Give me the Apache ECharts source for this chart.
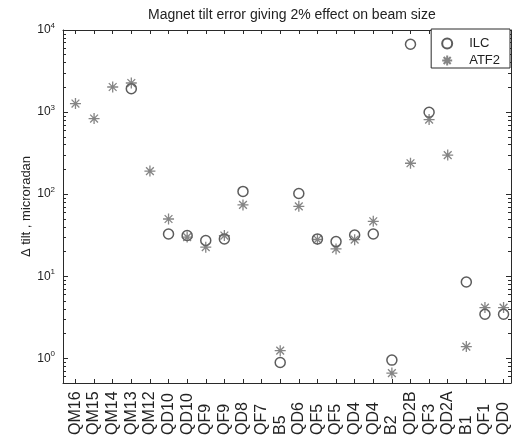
<!DOCTYPE html>
<html>
<head>
<meta charset="utf-8">
<script src="https://cdn.jsdelivr.net/npm/echarts@6/dist/echarts.min.js"></script>
<style>
  html, body { margin: 0; padding: 0; background: #fff; }
  #chart { width: 512px; height: 438px; }
</style>
</head>
<body>
<div id="chart"></div>
<script>
// Magnet names along the beam line (one column per magnet)
const categories = ['QM16','QM15','QM14','QM13','QM12','QD10','QD10','QF9','QF9','QD8','QF7','B5',
                    'QD6','QF5','QF5','QD4','QD4','B2','QD2B','QF3','QD2A','B1','QF1','QD0'];

// Tilt tolerance (microradian) giving a 2% beam size effect
const ilcValues  = [null, null, null, 1930, null, 32.7, 31.3, 27.2, 28.5, 108, null, 0.89,
                    102, 28.5, 26.4, 31.8, 32.7, 0.95, 6700, 995, null, 8.5, 3.44, 3.44];
const atf2Values = [1270, 834, 2020, 2260, 191, 49.8, 30, 22.6, 31.3, 74, null, 1.24,
                    71, 28, 21.5, 27.9, 46.7, 0.66, 238, 811, 299, 1.39, 4.15, 4.15];

// Decade tick labels on the log axis
const decadeExponents = [0, 1, 2, 3, 4];

const positions = categories.map((_, i) => i + 1);
const toPairs = vals => vals.map((v, i) => (v == null ? null : [i + 1, v])).filter(p => p);

// minor log ticks (2..9 per decade) as log10 values, drawn on plain helper axes
const Y_MIN = 0.5, Y_MAX = 10000;
const minorLogs = [];
for (let e = -1; e <= 3; e++) {
  for (let k = 2; k <= 9; k++) {
    const lv = Math.log10(k) + e;
    if (lv > Math.log10(Y_MIN) && lv < Math.log10(Y_MAX)) minorLogs.push(lv);
  }
}

const FONT = 'Liberation Sans, Arial, sans-serif';
const AX = '#2a2a2a';
const starPath = 'path://M0,-10L0,10M-10,0L10,0M-7.07,-7.07L7.07,7.07M-7.07,7.07L7.07,-7.07';

const xCommon = {
  type: 'value', min: 0.33, max: 24.4,
  splitLine: { show: false },
  axisLine: { show: true, onZero: false, lineStyle: { color: AX, width: 1 } },
  axisTick: { show: true, inside: true, length: 4, customValues: positions, lineStyle: { color: AX } }
};

const yMajor = {
  type: 'log', logBase: 10, min: Y_MIN, max: Y_MAX,
  splitLine: { show: false },
  axisLine: { show: true, onZero: false, lineStyle: { color: AX, width: 1 } },
  axisTick: { show: true, inside: true, length: 5, lineStyle: { color: AX } }
};
const yMinor = {
  type: 'value', min: Math.log10(Y_MIN), max: Math.log10(Y_MAX),
  splitLine: { show: false },
  axisLine: { show: false, onZero: false },
  axisLabel: { show: false },
  axisTick: { show: true, inside: true, length: 3, customValues: minorLogs, lineStyle: { color: AX } }
};

const chart = echarts.init(document.getElementById('chart'), null, { renderer: 'canvas' });
chart.setOption({
  animation: false,
  backgroundColor: '#fff',
  title: {
    text: 'Magnet tilt error giving 2% effect on beam size',
    left: 143, top: 3,
    textStyle: { fontFamily: FONT, fontSize: 14, fontWeight: 'normal', color: '#222' }
  },
  grid: { left: 63, right: 1, top: 30, bottom: 53 },
  legend: {
    orient: 'vertical', right: 2, top: 29,
    backgroundColor: '#fff', borderColor: AX, borderWidth: 1, borderRadius: 0,
    padding: [8, 10, 1, 10], itemGap: 4, itemWidth: 34, itemHeight: 10,
    textStyle: { fontFamily: FONT, fontSize: 13, color: '#222' },
    data: ['ILC', 'ATF2']
  },
  xAxis: [
    Object.assign({}, xCommon, {
      position: 'bottom',
      axisLabel: {
        show: true, customValues: positions, rotate: 90, align: 'left', verticalAlign: 'middle',
        margin: 52, fontFamily: FONT, fontSize: 16, color: '#222',
        formatter: v => categories[Math.round(v) - 1] || ''
      }
    }),
    Object.assign({}, xCommon, { position: 'top', axisLabel: { show: false } })
  ],
  yAxis: [
    Object.assign({}, yMajor, {
      position: 'left',
      name: 'Δ tilt , microradan', nameLocation: 'middle', nameGap: 30, nameRotate: 90,
      nameMoveOverlap: false,
      nameTextStyle: { fontFamily: FONT, fontSize: 13, color: '#222' },
      axisLabel: {
        show: true, showMinLabel: false, margin: 8,
        formatter: v => {
          const e = Math.round(Math.log10(v));
          return decadeExponents.indexOf(e) >= 0 ? '{b|10}{s|' + e + '}' : '';
        },
        rich: {
          b: { fontFamily: FONT, fontSize: 12, color: '#222' },
          s: { fontFamily: FONT, fontSize: 8, color: '#222', padding: [0, 0, 8, 0] }
        }
      }
    }),
    Object.assign({}, yMajor, { position: 'right', axisLabel: { show: false } }),
    Object.assign({}, yMinor, { position: 'left' }),
    Object.assign({}, yMinor, { position: 'right' })
  ],
  series: [
    {
      name: 'ILC', type: 'scatter', xAxisIndex: 0, yAxisIndex: 0,
      symbol: 'circle', symbolSize: 10,
      itemStyle: { color: 'rgba(255,255,255,0)', borderColor: '#333', borderWidth: 1.5 },
      data: toPairs(ilcValues), z: 3
    },
    {
      name: 'ATF2', type: 'scatter', xAxisIndex: 0, yAxisIndex: 0,
      symbol: starPath, symbolSize: 11,
      itemStyle: { color: '#666', borderColor: '#666', borderWidth: 1.3 },
      data: toPairs(atf2Values), z: 4
    }
  ]
});
</script>
</body>
</html>
